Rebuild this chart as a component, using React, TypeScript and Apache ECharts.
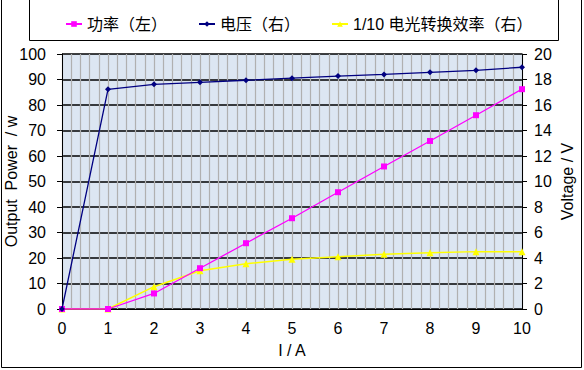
import React, { useEffect, useRef } from "react";
import * as echarts from "echarts";

const currents = [0, 1, 2, 3, 4, 5, 6, 7, 8, 9, 10];
const powerValues = [0, 0, 6.1, 16.0, 25.8, 35.6, 45.8, 55.9, 65.9, 76.0, 86.2];
const voltageValues = [0, 17.23, 17.62, 17.78, 17.94, 18.1, 18.27, 18.4, 18.56, 18.72, 18.96];
const efficiencyValues = [0, 0, 1.75, 3.0, 3.55, 3.9, 4.1, 4.29, 4.42, 4.5, 4.5];

const seriesNames = ["功率（左）", "电压（右）", "1/10 电光转换效率（右）"];
const FONT = "'Liberation Sans', Arial, 'Noto Sans CJK SC', sans-serif";

export default function App() {
  const ref = useRef<HTMLDivElement>(null);
  useEffect(() => {
    if (!ref.current) return;
    const chart = echarts.init(ref.current, undefined, { renderer: "svg" });
    const pair = (ys: number[]) => currents.map((x, i) => [x, ys[i]]);
    chart.setOption({
      animation: false,
      backgroundColor: "#ffffff",
      textStyle: { fontFamily: FONT },
      graphic: [
        {
          type: "rect",
          shape: { x: 1.5, y: -2, width: 580, height: 369.5 },
          style: { fill: "none", stroke: "#000", lineWidth: 1 },
          silent: true,
        },
        {
          type: "rect",
          shape: { x: 29.5, y: -2, width: 529, height: 42.5 },
          style: { fill: "none", stroke: "#000", lineWidth: 1 },
          silent: true,
        },
      ],
      legend: {
        left: 60,
        top: 11,
        itemWidth: 16,
        itemHeight: 7,
        itemGap: 31,
        textStyle: { fontSize: 16, color: "#000", fontFamily: FONT },
        data: seriesNames,
      },
      grid: {
        left: 62,
        right: 62,
        top: 54,
        bottom: 61,
        show: true,
        backgroundColor: "#dce6f2",
        borderWidth: 0,
        containLabel: false,
        outerBoundsMode: "none",
      },
      xAxis: {
        type: "value",
        min: 0,
        max: 10,
        interval: 1,
        name: "I / A",
        nameLocation: "middle",
        nameGap: 33,
        nameMoveOverlap: false,
        nameTextStyle: { fontSize: 16, color: "#000", fontFamily: FONT },
        axisLine: { show: true, lineStyle: { color: "#000", width: 1 } },
        axisTick: { show: false },
        axisLabel: { fontSize: 16, color: "#000", margin: 11, fontFamily: FONT },
        splitLine: { show: true, lineStyle: { color: "#b0b0b0", width: 1.2 } },
        minorTick: { show: false, splitNumber: 5 },
        minorSplitLine: { show: true, lineStyle: { color: "#b0b0b0", width: 1.2 } },
      },
      yAxis: [
        {
          type: "value",
          min: 0,
          max: 100,
          interval: 10,
          position: "left",
          name: "Output  Power  / w",
          nameLocation: "middle",
          nameGap: 43,
          nameMoveOverlap: false,
          nameTextStyle: { fontSize: 16, color: "#000", fontFamily: FONT },
          axisLine: { show: true, lineStyle: { color: "#000", width: 1 } },
          axisTick: { show: true, inside: false, length: 5, lineStyle: { color: "#000" } },
          axisLabel: { fontSize: 16, color: "#000", margin: 16, fontFamily: FONT },
          splitLine: { show: true, lineStyle: { color: "#000", width: 1.5 } },
        },
        {
          type: "value",
          min: 0,
          max: 20,
          interval: 2,
          position: "right",
          name: "Voltage / V",
          nameLocation: "middle",
          nameGap: 37,
          nameMoveOverlap: false,
          nameTextStyle: { fontSize: 16, color: "#000", fontFamily: FONT },
          axisLine: { show: true, lineStyle: { color: "#000", width: 1 } },
          axisTick: { show: true, inside: false, length: 5, lineStyle: { color: "#000" } },
          axisLabel: { fontSize: 16, color: "#000", margin: 12, fontFamily: FONT },
          splitLine: { show: false },
        },
      ],
      series: [
        {
          name: seriesNames[0],
          type: "line",
          yAxisIndex: 0,
          data: pair(powerValues),
          symbol: "rect",
          symbolSize: 6,
          lineStyle: { color: "#ff00ff", width: 1.3 },
          itemStyle: { color: "#ff00ff" },
          z: 3,
        },
        {
          name: seriesNames[1],
          type: "line",
          yAxisIndex: 1,
          data: pair(voltageValues),
          symbol: "diamond",
          symbolSize: 6,
          lineStyle: { color: "#000080", width: 1.3 },
          itemStyle: { color: "#000080" },
          z: 4,
        },
        {
          name: seriesNames[2],
          type: "line",
          yAxisIndex: 1,
          data: pair(efficiencyValues),
          symbol: "triangle",
          symbolSize: 7,
          lineStyle: { color: "#ffff00", width: 1.5 },
          itemStyle: { color: "#ffff00" },
          z: 2,
        },
      ],
    });
    return () => chart.dispose();
  }, []);
  return (
    <div
      ref={ref}
      style={{ position: "fixed", left: 0, top: 0, width: 584, height: 370 }}
    />
  );
}
